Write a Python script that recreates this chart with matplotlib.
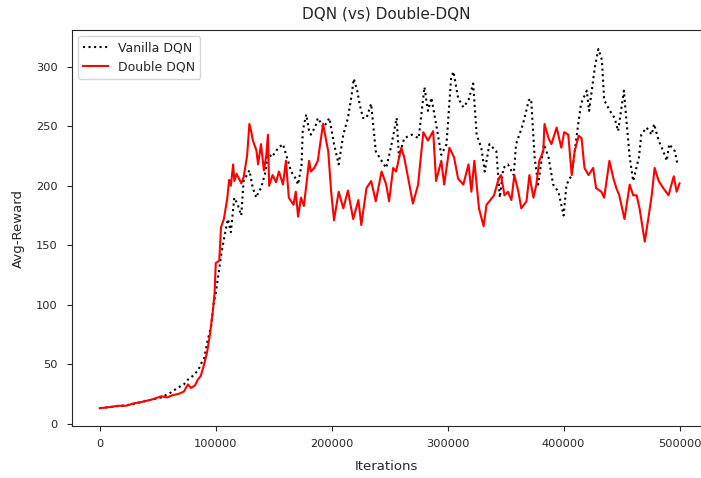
import matplotlib
import matplotlib.pyplot as plt
import numpy as np

plt.rcParams['font.family'] = 'DejaVu Sans'
plt.rcParams['font.size'] = 9.5
plt.rcParams['xtick.labelsize'] = 8.2
plt.rcParams['ytick.labelsize'] = 8.2
plt.rcParams['xtick.major.pad'] = 6
plt.rcParams['ytick.major.pad'] = 7
plt.rcParams['legend.fontsize'] = 9
plt.rcParams['axes.titlesize'] = 11
plt.rcParams['text.color'] = '#262626'
plt.rcParams['axes.labelcolor'] = '#262626'
plt.rcParams['xtick.color'] = '#262626'
plt.rcParams['ytick.color'] = '#262626'
plt.rcParams['axes.edgecolor'] = '#262626'

# ---------------- data (iterations in thousands) ---------------- #
vanilla_iter_k = [0, 9.5, 18, 27, 35, 44, 53, 61, 67, 72.5, 76, 80, 85, 87, 90, 93,
                  96, 98, 100, 103, 104.5, 107, 109, 110.5, 113, 116, 119, 122, 124, 129,
                  132, 135, 137, 139, 143, 145, 148, 149, 154, 158, 161, 165, 169, 171,
                  174, 175, 178, 180.5, 182, 186, 188, 193, 198, 202, 206, 210, 214,
                  217, 219, 222, 224, 227, 230, 234, 238, 243, 247, 251, 256, 258, 262.5,
                  269, 275, 280, 283, 286, 290, 294.5, 299, 303, 305, 309, 313.5, 318,
                  322, 325, 329, 332, 336, 342, 345, 348, 352, 357, 359, 365, 370, 372,
                  375, 378, 383, 387, 391, 395.5, 400, 402.5, 407, 411, 415, 420, 422,
                  427, 430, 433, 435, 440, 444, 447, 452, 454, 457, 460, 465, 467, 471.5,
                  476, 478, 482, 486, 489, 491, 496, 498, 500]
vanilla_reward = [13, 14, 15, 16, 18, 20, 22, 26, 30, 33, 37, 40, 45, 50, 55, 70,
                  82, 100, 110, 130, 141, 155, 165, 172, 161, 190, 184, 175, 204, 213,
                  198, 190, 195, 198, 212, 229, 224, 225, 232, 235, 225, 212, 206, 201,
                  218, 246, 260, 246, 243, 250, 257, 249, 257, 235, 218, 243, 257,
                  275, 290, 280, 269, 257, 257, 269, 229, 221, 215, 232, 257, 224, 240,
                  243, 240, 283, 263, 274, 252, 226, 235, 291, 296, 274, 266, 272,
                  286, 243, 232, 212, 235, 229, 190, 215, 218, 209, 235, 252, 272, 273,
                  224, 201, 235, 224, 201, 195, 175, 201, 209, 240, 269, 280, 263,
                  300, 315, 306, 272, 263, 257, 246, 280, 257, 224, 204, 224, 243, 249,
                  243, 252, 238, 229, 221, 235, 229, 219, 219]

double_iter_k = [0, 9.5, 15.5, 22.5, 29, 35, 44, 53, 58, 63, 68, 72.5, 76, 78.5, 82,
                 84.5, 87, 90, 92.5, 95, 97.5, 99, 100, 103, 104.5, 107, 110, 111.5,
                 113, 115, 116, 118, 120, 122, 124, 127, 129, 130.5, 132, 135, 136.5,
                 139, 141.5, 143.5, 145, 146, 149, 152, 154.5, 158, 160.5, 163, 167,
                 169, 171, 173.5, 176, 178, 180.5, 182, 185, 188, 192.5, 197, 199.5,
                 202, 206, 210, 214, 218.5, 223, 225.5, 230, 234, 238, 243, 247, 249.5,
                 253, 255.5, 260, 262.5, 267, 270, 274.5, 279, 283, 287.5, 290, 294.5,
                 297, 301.5, 305.5, 309, 313.5, 318, 320.5, 323, 327, 331, 333.5, 336,
                 340, 344, 346, 349, 352, 355, 357.5, 361, 363.5, 368, 370.5, 374,
                 376.5, 379, 382.5, 383.5, 387, 389.5, 394, 398, 400.5, 404, 407, 409.5,
                 413, 415.5, 418, 421.5, 425.5, 428, 432.5, 435, 439.5, 443, 445.5, 448,
                 452.5, 457, 460, 463, 465.5, 470, 473, 476, 478.5, 482, 486, 490.5,
                 495, 497.5, 500]
double_reward = [13, 14, 15, 15, 17, 18, 20, 23, 22, 24, 25, 27, 33, 30, 32,
                 37, 40, 50, 60, 75, 95, 110, 135, 137, 165, 172, 190, 205,
                 200, 218, 204, 210, 206, 202, 207, 225, 252, 246, 238, 230, 218,
                 235, 213, 225, 243, 200, 209, 203, 212, 201, 221, 190, 184,
                 195, 174, 190, 183, 200, 221, 212, 215, 221, 252, 229, 195,
                 171, 195, 181, 196, 172, 188, 167, 198, 204, 187, 212, 201, 187,
                 215, 212, 232, 224, 201, 185, 201, 245, 238, 246, 204, 221,
                 201, 232, 224, 206, 201, 218, 195, 221, 181, 166, 184, 187,
                 192, 206, 209, 192, 195, 188, 209, 195, 181, 187, 209, 190,
                 201, 221, 229, 252, 240, 235, 249, 232, 245, 243, 209, 229,
                 242, 240, 215, 209, 215, 198, 195, 190, 221, 206, 198, 192,
                 172, 201, 192, 192, 181, 153, 172, 192, 215, 204, 198, 192,
                 208, 195, 202]

vanilla_iter = np.array(vanilla_iter_k) * 1000
double_iter = np.array(double_iter_k) * 1000

# ---------------- plot ---------------- #
fig = plt.figure(figsize=(7.01, 4.78), dpi=100)
ax = fig.add_axes([72 / 701, 52 / 478, 629 / 701, 396 / 478])

ax.plot(vanilla_iter, vanilla_reward, linestyle=':', color='black', linewidth=1.5,
        label='Vanilla DQN')
ax.plot(double_iter, double_reward, linestyle='-', color='red', linewidth=1.5,
        label='Double DQN')

ax.set_xlim(-24000, 518500)
ax.set_ylim(-2, 331)
ax.set_xticks(np.arange(0, 500001, 100000))
ax.set_xticklabels(['0', '100000', '200000', '300000', '400000', '500000'])
ax.set_yticks(np.arange(0, 301, 50))

ax.set_title('DQN (vs) Double-DQN', pad=8)
ax.set_xlabel('Iterations', labelpad=8)
ax.set_ylabel('Avg-Reward', labelpad=8)
ax.legend(loc='upper left')

plt.savefig('out.png', dpi=100)
